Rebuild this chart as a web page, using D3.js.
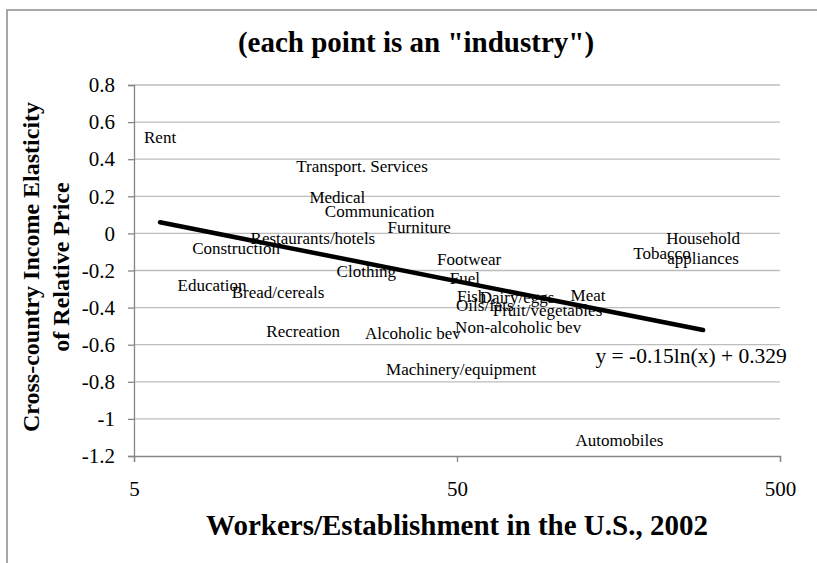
<!DOCTYPE html>
<html>
<head>
<meta charset="utf-8">
<script src="https://cdn.jsdelivr.net/npm/d3@7/dist/d3.min.js"></script>
<style>
  body { margin: 0; background: #fff; }
  text { font-family: "Liberation Serif", "Times New Roman", serif; fill: #000; }
</style>
</head>
<body>
<svg id="chart" width="817" height="563"></svg>
<script>
// industries, US workers per establishment (x), elasticity of relative price (y)
var industries = ["Rent", "Transport. Services", "Medical", "Communication", "Furniture",
  "Restaurants/hotels", "Construction", "Clothing", "Footwear", "Fuel", "Fish",
  "Dairy/eggs", "Oils/fats", "Fruit/vegetables", "Meat", "Non-alcoholic bev",
  "Education", "Bread/cereals", "Recreation", "Alcoholic bev", "Machinery/equipment",
  "Household\nappliances", "Tobacco", "Automobiles"];
var workers = [6.02, 25.4, 21.3, 28.8, 38.2,
  17.9, 10.35, 26.2, 54.5, 52.9, 55.5,
  76.7, 61.0, 95.3, 127.3, 77.3,
  8.72, 13.96, 16.7, 36.5, 51.5,
  289, 215.6, 159.2];
var elasticity = [0.520, 0.363, 0.196, 0.121, 0.035,
  -0.025, -0.079, -0.203, -0.138, -0.240, -0.337,
  -0.343, -0.386, -0.413, -0.332, -0.505,
  -0.278, -0.316, -0.526, -0.537, -0.731,
  -0.079, -0.106, -1.114];
var xTicks = [5, 50, 500];
var yTicks = [0.8, 0.6, 0.4, 0.2, 0, -0.2, -0.4, -0.6, -0.8, -1, -1.2];
var trendSlope = -0.15;
var trendIntercept = 0.329;

var plotLeft = 134, plotRight = 780, plotTop = 85, plotBottom = 456;

var svg = d3.select("#chart");

var x = d3.scaleLog().domain([5, 500]).range([plotLeft, plotRight]);
var y = d3.scaleLinear().domain([-1.2, 0.8]).range([plotBottom, plotTop]);

// chart frame (cropped on the right and bottom)
svg.append("rect")
  .attr("x", 7).attr("y", 10)
  .attr("width", 830).attr("height", 580)
  .style("fill", "none")
  .style("stroke", "#8c8c8c")
  .style("stroke-width", 1.5);

// gridlines
svg.append("g")
  .selectAll("line")
  .data(yTicks.filter(function(d) { return d > -1.2; }))
  .enter()
  .append("line")
  .attr("x1", plotLeft).attr("x2", plotRight)
  .attr("y1", function(d) { return y(d); })
  .attr("y2", function(d) { return y(d); })
  .style("stroke", "#bdbdbd")
  .style("stroke-width", 1.3);

// y axis
var yAxis = svg.append("g")
  .attr("transform", "translate(" + plotLeft + ",0)")
  .call(d3.axisLeft(y).tickValues(yTicks).tickSize(6).tickPadding(13)
    .tickFormat(function(d) { return String(d); }));
yAxis.select(".domain").style("stroke", "#868686").style("stroke-width", 1.3);
yAxis.selectAll(".tick line").style("stroke", "#868686").style("stroke-width", 1.3);
yAxis.selectAll("text")
  .style("font-family", "Liberation Serif")
  .style("font-size", "21px")
  .style("fill", "#000");

// x axis
var xAxis = svg.append("g")
  .attr("transform", "translate(0," + plotBottom + ")")
  .call(d3.axisBottom(x).tickValues(xTicks).tickSize(6).tickPadding(19)
    .tickFormat(d3.format("d")));
xAxis.select(".domain").style("stroke", "#868686").style("stroke-width", 1.3);
xAxis.selectAll(".tick line").style("stroke", "#868686").style("stroke-width", 1.3);
xAxis.selectAll("text")
  .style("font-family", "Liberation Serif")
  .style("font-size", "21px")
  .style("fill", "#000");

// industry labels, centred on each point
var points = industries.map(function(name, i) {
  return { name: name, w: workers[i], e: elasticity[i] };
});

var labels = svg.append("g")
  .selectAll("text")
  .data(points)
  .enter()
  .append("text")
  .attr("text-anchor", "middle")
  .style("font-size", "17px")
  .attr("transform", function(d) {
    var lines = d.name.split("\n").length;
    return "translate(" + x(d.w) + "," + (y(d.e) + 6 - (lines - 1) * 10) + ")";
  });

labels.each(function(d) {
  var t = d3.select(this);
  d.name.split("\n").forEach(function(line, k) {
    t.append("tspan").attr("x", 0).attr("y", k * 20).text(line);
  });
});

// logarithmic trendline across the data range
var xExtent = d3.extent(workers);
var trend = d3.line()
  .x(function(d) { return x(d); })
  .y(function(d) { return y(trendSlope * Math.log(d) + trendIntercept); });

svg.append("path")
  .datum(xExtent)
  .attr("d", trend)
  .style("fill", "none")
  .style("stroke", "#000")
  .style("stroke-width", 4.5)
  .style("stroke-linecap", "round");

svg.append("text")
  .attr("x", x(xExtent[1]) - 12)
  .attr("y", y(trendSlope * Math.log(xExtent[1]) + trendIntercept) + 33)
  .attr("text-anchor", "middle")
  .style("font-size", "21.5px")
  .text("y = " + trendSlope + "ln(x) + " + trendIntercept);

// titles
svg.append("text")
  .attr("x", 416).attr("y", 52)
  .attr("text-anchor", "middle")
  .style("font-size", "29px")
  .style("font-weight", "bold")
  .text('(each point is an "industry")');

svg.append("text")
  .attr("x", (plotLeft + plotRight) / 2).attr("y", 535)
  .attr("text-anchor", "middle")
  .style("font-size", "29px")
  .style("font-weight", "bold")
  .text("Workers/Establishment in the U.S., 2002");

var yTitle = svg.append("text")
  .attr("transform", "translate(0,267) rotate(-90)")
  .attr("text-anchor", "middle")
  .style("font-size", "24px")
  .style("font-weight", "bold");
yTitle.append("tspan").attr("x", 0).attr("y", 39).text("Cross-country Income Elasticity");
yTitle.append("tspan").attr("x", 0).attr("y", 69).text("of Relative Price");
</script>
</body>
</html>
